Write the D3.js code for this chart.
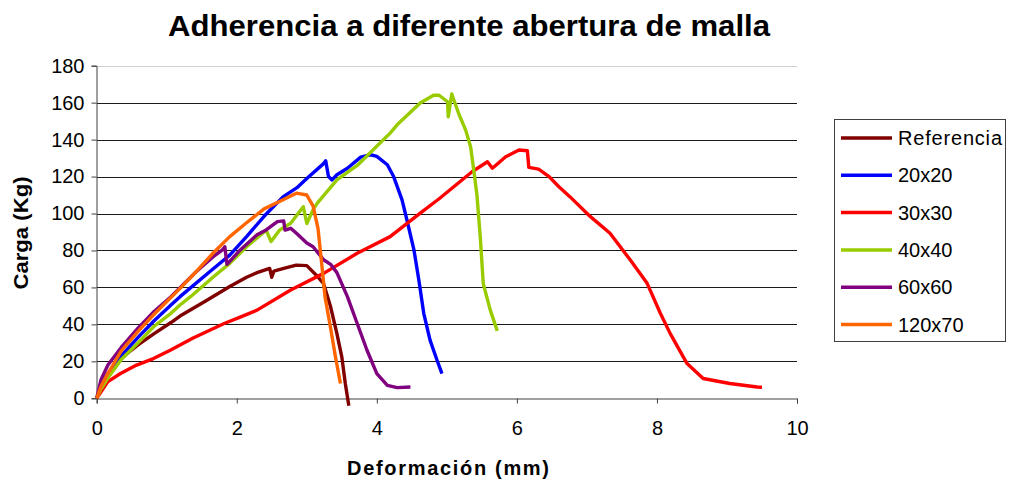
<html>
<head>
<meta charset="utf-8">
<title>Adherencia</title>
<script src="https://d3js.org/d3.v7.min.js"></script>
<style>
  body { margin: 0; background: #fff; }
  text { font-family: "Liberation Sans", Arial, sans-serif; }
</style>
</head>
<body>
<div id="chart"></div>
<script>
// data: [deformacion mm, carga kg]
var referencia = [[0,0],[0.06,6.3],[0.16,13.4],[0.35,21.7],[0.59,28.9],[0.82,35],[1.06,41],[1.19,44.5],[1.55,52.5],[1.9,60.5],[2.14,65.5],[2.29,68],[2.47,70.3],[2.5,65.5],[2.53,68.8],[2.67,70.3],[2.85,72.1],[3.0,71.8],[3.14,66.5],[3.24,62],[3.34,49.5],[3.43,35],[3.5,22.4],[3.55,8],[3.6,-4]];
var m20x20 = [[0,0],[0.06,6],[0.16,12.5],[0.35,23],[0.59,33],[0.82,42],[1.06,50.5],[1.19,55],[1.66,70],[1.9,77.5],[2.14,87.5],[2.39,98.5],[2.66,109],[2.86,114],[3.0,119],[3.24,127],[3.27,128.5],[3.31,120],[3.36,118.2],[3.43,121],[3.58,124.5],[3.77,130.5],[3.91,131.8],[4.0,130.9],[4.15,126.4],[4.24,120],[4.36,107.4],[4.43,96.5],[4.53,80.3],[4.6,64],[4.67,46],[4.76,31.5],[4.86,20.6],[4.93,13.4]];
var m30x30 = [[0,0],[0.16,9],[0.34,13.4],[0.57,18],[0.81,21.5],[1.05,26],[1.37,32.5],[1.82,40.5],[2.04,43.8],[2.29,47.7],[2.77,58.6],[3.24,67.6],[3.72,78.5],[4.19,87.5],[4.62,100.2],[4.89,108],[5.36,122.6],[5.58,128],[5.65,124.5],[5.84,130.7],[6.03,134.4],[6.15,134],[6.17,125],[6.31,124],[6.46,120],[6.6,114.5],[6.76,109],[7.05,98.3],[7.33,89.3],[7.62,74.8],[7.86,62.2],[8.05,45.9],[8.19,35],[8.43,18.8],[8.66,10.7],[9.04,8],[9.43,6.1],[9.5,6]];
var m40x40 = [[0,0],[0.06,5],[0.16,11],[0.35,21],[0.59,30],[0.82,39],[1.06,46],[1.19,50.5],[1.34,55],[1.66,65.5],[1.9,73],[2.14,82],[2.42,91],[2.49,84.8],[2.61,91],[2.77,94.7],[2.95,103.7],[3.0,94.6],[3.09,102],[3.15,105.6],[3.43,118.2],[3.72,126],[4.19,143.5],[4.29,148],[4.62,159.8],[4.81,164],[4.89,164],[5.01,160.5],[5.02,152.4],[5.07,164.7],[5.17,154],[5.27,145],[5.34,136],[5.39,121.8],[5.43,110],[5.48,85.7],[5.52,62],[5.62,47.7],[5.72,36.5]];
var m60x60 = [[0,0],[0.06,9.9],[0.16,18],[0.35,27.5],[0.59,38],[0.82,47],[1.06,55],[1.19,59.8],[1.42,68.5],[1.66,76.5],[1.8,80.5],[1.83,82],[1.86,72.5],[2.05,80.3],[2.29,88.5],[2.42,91.1],[2.58,95.6],[2.67,96],[2.69,91],[2.77,92],[2.86,89],[3.0,84],[3.09,82],[3.24,75],[3.34,72.5],[3.43,68],[3.58,55],[3.72,40.5],[3.86,26],[4.0,13.4],[4.15,7],[4.29,5.8],[4.48,6.1]];
var m120x70 = [[0,0],[0.06,6.3],[0.16,13.4],[0.35,25.6],[0.61,37],[0.82,45.5],[1.19,59.5],[1.42,68.5],[1.66,78.5],[1.9,87.5],[2.14,95],[2.39,102.5],[2.61,106.5],[2.85,111],[3.0,110],[3.09,104],[3.16,92],[3.21,74],[3.26,55],[3.34,38],[3.41,22.4],[3.48,8]];

var seriesNames = ["Referencia","20x20","30x30","40x40","60x60","120x70"];
var seriesData = [referencia, m20x20, m30x30, m40x40, m60x60, m120x70];
var seriesColors = ["#800000","#0000ff","#ff0000","#99cc00","#800080","#ff6600"];
var xTicks = [0,2,4,6,8,10];
var yTicks = [0,20,40,60,80,100,120,140,160,180];

var svg = d3.select("#chart").append("svg")
  .attr("width",1009)
  .attr("height",482);

var x = d3.scaleLinear().domain([0,10]).range([96.7,797]);
var y = d3.scaleLinear().domain([0,180]).range([398.3,65.7]);

// title
svg.append("text")
  .attr("x",469).attr("y",36)
  .attr("text-anchor","middle")
  .attr("font-size",30).attr("font-weight","bold")
  .attr("textLength",602).attr("lengthAdjust","spacingAndGlyphs")
  .text("Adherencia a diferente abertura de malla");

// gridlines
svg.append("g").selectAll("line")
  .data(yTicks.filter(function(d){return d>0;}))
  .enter().append("line")
  .attr("x1",x(0)).attr("x2",x(10))
  .attr("y1",function(d){return Math.round(y(d))+0.5})
  .attr("y2",function(d){return Math.round(y(d))+0.5})
  .attr("stroke",function(d){return d==180 ? "#d0d0d0" : "#1a1a1a"})
  .attr("stroke-width",1);

// axes
var yAxis = svg.append("g")
  .attr("transform","translate(96.5,0)")
  .call(d3.axisLeft(y).tickValues(yTicks).tickSize(5).tickPadding(7));
var xAxis = svg.append("g")
  .attr("transform","translate(0,398.5)")
  .call(d3.axisBottom(x).tickValues(xTicks).tickSize(5).tickPadding(17));
[xAxis,yAxis].forEach(function(a){
  a.select(".domain").attr("stroke","#404040");
  a.selectAll(".tick line").attr("stroke","#404040");
  a.selectAll(".tick text").attr("font-size",20).attr("fill","#000")
    .attr("font-family","'Liberation Sans', Arial, sans-serif");
});

// axis titles
svg.append("text")
  .attr("transform","translate(28,233) rotate(-90)")
  .attr("text-anchor","middle")
  .attr("font-size",20).attr("font-weight","bold")
  .attr("textLength",113).attr("lengthAdjust","spacingAndGlyphs")
  .text("Carga (Kg)");
svg.append("text")
  .attr("x",448).attr("y",475)
  .attr("text-anchor","middle")
  .attr("font-size",20).attr("font-weight","bold")
  .attr("textLength",202).attr("lengthAdjust","spacing")
  .text("Deformación (mm)");

// lines
var line = d3.line()
  .x(function(d){return x(d[0])})
  .y(function(d){return y(d[1])});
svg.append("g").selectAll("path")
  .data(seriesData)
  .enter().append("path")
  .attr("d",line)
  .attr("fill","none")
  .attr("stroke",function(d,i){return seriesColors[i]})
  .attr("stroke-width",3.4)
  .attr("stroke-linejoin","round");

// legend
var lg = svg.append("g");
lg.append("rect")
  .attr("x",834.5).attr("y",119.5)
  .attr("width",171).attr("height",222)
  .attr("fill","#fff").attr("stroke","#404040");
var item = lg.selectAll("g.item")
  .data(seriesNames)
  .enter().append("g")
  .attr("transform",function(d,i){return "translate(0,"+(138+i*37.3)+")"});
item.append("line")
  .attr("x1",841).attr("x2",892)
  .attr("stroke",function(d,i){return seriesColors[i]})
  .attr("stroke-width",3.5);
item.append("text")
  .attr("x",898).attr("y",7)
  .attr("font-size",20)
  .attr("textLength",function(d){return d=="Referencia" ? 104 : null})
  .attr("lengthAdjust","spacing")
  .text(function(d){return d});
</script>
</body>
</html>
